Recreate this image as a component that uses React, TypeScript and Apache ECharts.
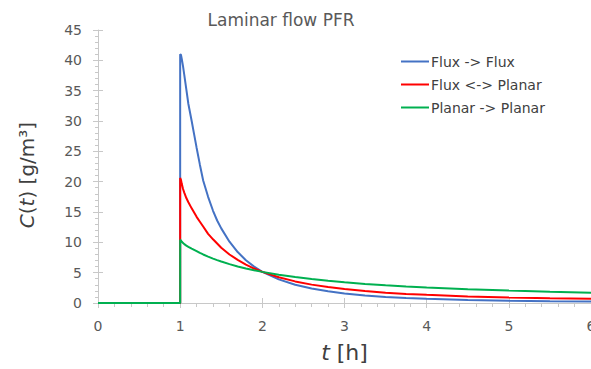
import React, { useEffect, useRef } from "react";
import * as echarts from "echarts";

const tValues = [0, 1, 1, 1.01, 1.02, 1.035, 1.05, 1.075, 1.1, 1.14, 1.17, 1.2, 1.24, 1.28, 1.34, 1.4, 1.45, 1.5, 1.6, 1.7, 1.8, 1.9, 2, 2.2, 2.4, 2.6, 2.8, 3, 3.25, 3.5, 3.75, 4, 4.5, 5, 5.5, 6];
const fluxFlux = [0, 0, 41, 40.9, 40.2, 39.0, 37.6, 35.2, 32.8, 30.0, 27.8, 25.6, 22.8, 20.2, 17.5, 15.2, 13.6, 12.3, 10.1, 8.4, 7.05, 6.0, 5.13, 3.9, 3.0, 2.38, 1.92, 1.56, 1.24, 1.0, 0.83, 0.7, 0.5, 0.38, 0.3, 0.24];
const fluxPlanar = [0, 0, 20.6, 20.3, 19.6, 18.8, 18.2, 17.3, 16.6, 15.6, 14.9, 14.2, 13.4, 12.6, 11.4, 10.5, 9.8, 9.1, 8.0, 7.1, 6.33, 5.68, 5.13, 4.24, 3.56, 3.03, 2.63, 2.3, 1.97, 1.7, 1.5, 1.34, 1.08, 0.9, 0.78, 0.7];
const planarPlanar = [0, 0, 10.4, 10.3, 10.1, 9.9, 9.7, 9.45, 9.25, 8.95, 8.75, 8.54, 8.25, 8.0, 7.65, 7.32, 7.07, 6.83, 6.41, 6.03, 5.69, 5.39, 5.13, 4.66, 4.27, 3.94, 3.66, 3.42, 3.15, 2.93, 2.73, 2.56, 2.28, 2.05, 1.86, 1.71];
const seriesNames = ["Flux -> Flux", "Flux <-> Planar", "Planar -> Planar"];
const seriesColors = ["#4472C4", "#FF0000", "#00B050"];
const titleText = "Laminar flow PFR";
const xAxisTitle = "{i|t} [h]";
const yAxisTitle = "{i|C}({i|t}) [g/m³]";

const FONT = "'DejaVu Sans', sans-serif";
const AXIS_GRAY = "#C8C8C8";

export default function App() {
  const ref = useRef<HTMLDivElement>(null);
  useEffect(() => {
    if (!ref.current) return;
    const chart = echarts.init(ref.current, null, { renderer: "svg" });
    const seriesData = [fluxFlux, fluxPlanar, planarPlanar];
    const xNameStyle = {
      fontSize: 22,
      color: "#404040",
      fontFamily: FONT,
      rich: {
        i: { fontSize: 22, fontStyle: "italic", color: "#404040", fontFamily: FONT },
      },
    };
    chart.setOption({
      animation: false,
      backgroundColor: "#ffffff",
      textStyle: { fontFamily: FONT },
      title: {
        text: titleText,
        left: 276,
        top: 6,
        textAlign: "center",
        textStyle: { fontSize: 17, fontWeight: "normal", color: "#595959", fontFamily: FONT },
      },
      legend: {
        orient: "vertical",
        left: 396,
        top: 48,
        icon: "rect",
        itemWidth: 28,
        itemHeight: 2,
        itemGap: 6,
        textStyle: { fontSize: 14, lineHeight: 17, color: "#404040", fontFamily: FONT, padding: [0, 0, 0, -3] },
        data: seriesNames,
      },
      grid: { left: 98, top: 30, right: 0, bottom: 66, containLabel: false, outerBoundsMode: "none" },
      graphic: [
        {
          type: "text",
          x: 27,
          y: 175,
          rotation: Math.PI / 2,
          style: {
            text: yAxisTitle,
            fill: "#404040",
            fontSize: 20,
            fontFamily: FONT,
            align: "center",
            verticalAlign: "middle",
            rich: {
              i: { fontSize: 20, fontStyle: "italic", fill: "#404040", fontFamily: FONT },
            },
          },
        },
      ],
      xAxis: [
        {
          type: "value",
          min: 0,
          max: 6,
          interval: 1,
          name: xAxisTitle,
          nameLocation: "middle",
          nameGap: 38,
          nameTextStyle: xNameStyle,
          axisLine: { show: true, lineStyle: { color: AXIS_GRAY, width: 1 } },
          axisTick: { show: true, length: 5, lineStyle: { color: AXIS_GRAY } },
          minorTick: { show: true, splitNumber: 5, length: 4, lineStyle: { color: AXIS_GRAY } },
          splitLine: { show: false },
          axisLabel: { fontSize: 14, color: "#595959", margin: 16, fontFamily: FONT },
        },
        {
          type: "value",
          min: 0,
          max: 6,
          interval: 1,
          position: "bottom",
          axisLine: { show: false },
          axisTick: { show: true, inside: true, length: 5, lineStyle: { color: AXIS_GRAY } },
          axisLabel: { show: false },
          splitLine: { show: false },
        },
      ],
      yAxis: [
        {
          type: "value",
          min: 0,
          max: 45,
          interval: 5,
          axisLine: { show: true, lineStyle: { color: AXIS_GRAY, width: 1 } },
          axisTick: { show: true, length: 5, lineStyle: { color: AXIS_GRAY } },
          minorTick: { show: true, splitNumber: 5, length: 3, lineStyle: { color: AXIS_GRAY } },
          splitLine: { show: false },
          axisLabel: { fontSize: 14, color: "#595959", margin: 16, fontFamily: FONT },
        },
        {
          type: "value",
          min: 0,
          max: 45,
          interval: 5,
          position: "left",
          axisLine: { show: false },
          axisTick: { show: true, inside: true, length: 5, lineStyle: { color: AXIS_GRAY } },
          axisLabel: { show: false },
          splitLine: { show: false },
        },
      ],
      series: seriesNames.map((name, k) => ({
        name,
        type: "line",
        symbol: "none",
        smooth: false,
        color: seriesColors[k],
        lineStyle: { width: 2, color: seriesColors[k] },
        data: tValues.map((t, i) => [t, seriesData[k][i]]),
      })),
    });
    return () => chart.dispose();
  }, []);
  return <div ref={ref} style={{ width: 591, height: 369, position: "absolute", left: 0, top: 0 }} />;
}
